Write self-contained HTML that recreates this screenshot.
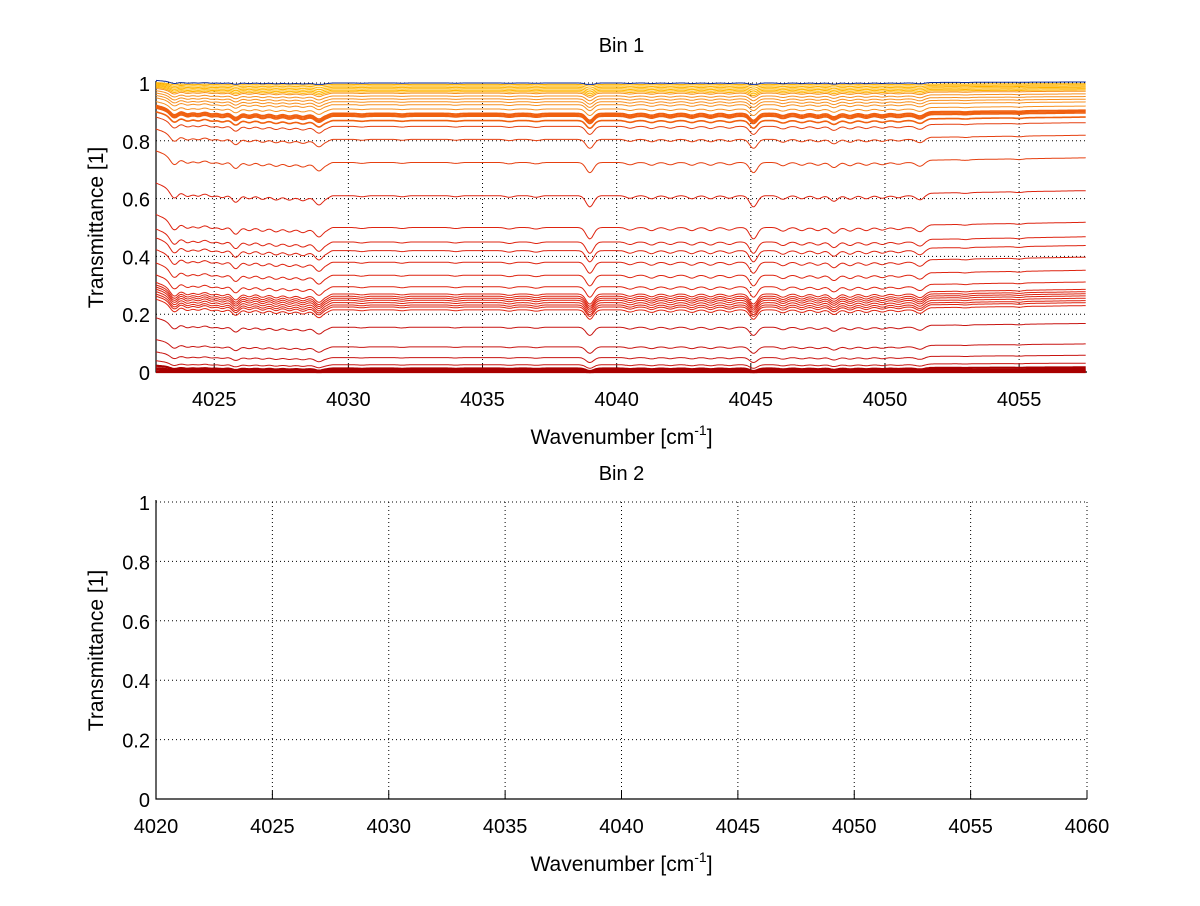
<!DOCTYPE html>
<html><head><meta charset="utf-8"><style>
html,body{margin:0;padding:0;background:#fff;}
svg text{font-family:"Liberation Sans",Arial,sans-serif;fill:#000;}
</style></head><body>
<svg id="fig" width="1200" height="901" viewBox="0 0 1200 901" xmlns="http://www.w3.org/2000/svg">
<rect width="1200" height="901" fill="#fff"/>
<g id="ax1"></g>
<g id="ax2"></g>
</svg>
<script>
// ---- data ----
const levels = [1.0, 0.995, 0.99, 0.985, 0.98, 0.975, 0.97, 0.965, 0.955, 0.945, 0.935, 0.925, 0.91, 0.895, 0.89, 0.885, 0.87, 0.85, 0.805, 0.725, 0.61, 0.50, 0.45, 0.42, 0.38, 0.335, 0.295, 0.27, 0.262, 0.255, 0.248, 0.24, 0.232, 0.225, 0.215, 0.155, 0.087, 0.05, 0.025, 0.012, 0.006, 0.003, 0.0];
const linePos   = [4023.5,4024.0,4024.4,4024.9,4025.3,4025.8,4026.3,4026.8,4027.3,4027.8,4028.3,4028.9,4030.5,4032,4034,4036,4037,4039.0,4040.5,4041.3,4042.0,4042.8,4043.5,4044.2,4045.1,4046.2,4046.9,4047.5,4048.1,4048.7,4049.3,4049.9,4050.5,4051.3,4053,4055];
const lineDepth = [0.8,0.5,0.4,0.35,0.4,0.8,0.4,0.4,0.4,0.35,0.35,0.7,0.1,0.1,0.1,0.15,0.15,1.1,0.25,0.3,0.25,0.3,0.3,0.25,1.1,0.35,0.3,0.3,0.55,0.35,0.3,0.25,0.2,0.4,0.08,0.08];
const baseX = [4022.83, 4023.2, 4023.6, 4025, 4029.2, 4029.4, 4051.4, 4051.7, 4057.53];
const baseY = [1.5, 1.0, 0.6, 0.3, -0.3, 0, 0, 0.3, 0.6];
const xTicks1 = [4025,4030,4035,4040,4045,4050,4055];
const xTicks2 = [4020,4025,4030,4035,4040,4045,4050,4055,4060];
const yTicks = [0,0.2,0.4,0.6,0.8,1];
const yTickLabels = ["0","0.2","0.4","0.6","0.8","1"];

const NS="http://www.w3.org/2000/svg";
function mk(parent,tag,attrs,text){const e=document.createElementNS(NS,tag);for(const k in attrs)e.setAttribute(k,attrs[k]);if(text!==undefined)e.textContent=text;parent.appendChild(e);return e;}

function drawAxes(g,x0,x1,xmin,xmax,y0,yTop,vTop,xt,title,titleY){
  const sx=v=>x0+(v-xmin)/(xmax-xmin)*(x1-x0);
  const sy=v=>y0-(v/vTop)*(y0-yTop);
  xt.forEach(t=>{const l=mk(g,'line',{x1:sx(t),x2:sx(t),y1:y0,y2:sy(1),stroke:'#000','stroke-width':1,'stroke-dasharray':'1,3'});
    
    const tk=mk(g,'line',{x1:sx(t),x2:sx(t),y1:y0,y2:y0-8,stroke:'#000'});
    const tl=mk(g,'text',{x:sx(t),y:y0+34,'font-size':20,'text-anchor':'middle'},String(t));
    });
  yTicks.forEach((t,i)=>{const l=mk(g,'line',{x1:x0,x2:x1,y1:sy(t),y2:sy(t),stroke:'#000','stroke-width':1,'stroke-dasharray':'1,3'});
    
    const tl=mk(g,'text',{x:x0-6,y:sy(t)+8,'font-size':20,'text-anchor':'end'},yTickLabels[i]);
    });
  const ax=mk(g,'path',{d:`M${x0},${sy(1)-2}V${y0}H${x1}`,fill:'none',stroke:'#000','stroke-width':1.2});
  
  const cx=(x0+x1)/2;
  const ti=mk(g,'text',{x:cx,y:titleY,'font-size':20,'text-anchor':'middle'},title);
  
  const xl=mk(g,'text',{x:cx,y:y0+72,'font-size':21,'text-anchor':'middle'});
  
  xl.innerHTML='Wavenumber [cm<tspan dy="-9" font-size="14">-1</tspan><tspan dy="9">]</tspan>';
  const yc=(y0+sy(1))/2;
  const yl=mk(g,'text',{x:0,y:0,'font-size':21,'text-anchor':'middle',transform:`translate(103,${yc}) rotate(-90)`},'Transmittance [1]');
  
  return {sx,sy};
}

function interp(x){for(let i=0;i<baseX.length-1;i++){if(x<=baseX[i+1]){const t=(x-baseX[i])/(baseX[i+1]-baseX[i]);return baseY[i]+t*(baseY[i+1]-baseY[i]);}}return baseY[baseY.length-1];}
function prof(x){let s=0;for(let i=0;i<linePos.length;i++){const d=(x-linePos[i])/0.2;s+=lineDepth[i]*Math.exp(-d*d);}return s;}
function color(L){if(L>=0.999)return '#0a2a9a';if(L>=0.97)return '#ffb400';if(L>=0.9)return '#f79020';if(L>=0.86)return '#f06010';if(L>=0.7)return '#e64010';if(L>=0.2)return '#de2410';if(L>=0.02)return '#c81410';return '#a80000';}

const g1=document.getElementById('ax1');
const A=drawAxes(g1,156,1087,4022.83,4057.53,372,83,1,xTicks1,'Bin 1',52);
const xmin=4022.83,xmax=4057.53;
const seriesG=mk(g1,'g',{});

levels.slice().reverse().forEach(L=>{
  const amp=L>=0.999?0.012:0.06*Math.sqrt(Math.max(0,4*L*(1-L)));
  let pts=[];
  for(let x=xmin;x<=xmax;x+=0.05){
    let v=L+amp*(interp(x)*0.5-prof(x)*0.6);
    if(L>=0.999)v=Math.max(0.995,Math.min(1.012,v));
    pts.push(A.sx(x).toFixed(1)+','+A.sy(Math.max(0,v)).toFixed(1));
  }
  const p=mk(seriesG,'polyline',{points:pts.join(' '),fill:'none',stroke:color(L),'stroke-width':L<0.02?2.2:(L>0.86&&L<0.9?1.6:1)});
  
  
});

const g2=document.getElementById('ax2');
drawAxes(g2,156,1087,4020,4060,799,502,1,xTicks2,'Bin 2',480);
</script>
</body></html>
